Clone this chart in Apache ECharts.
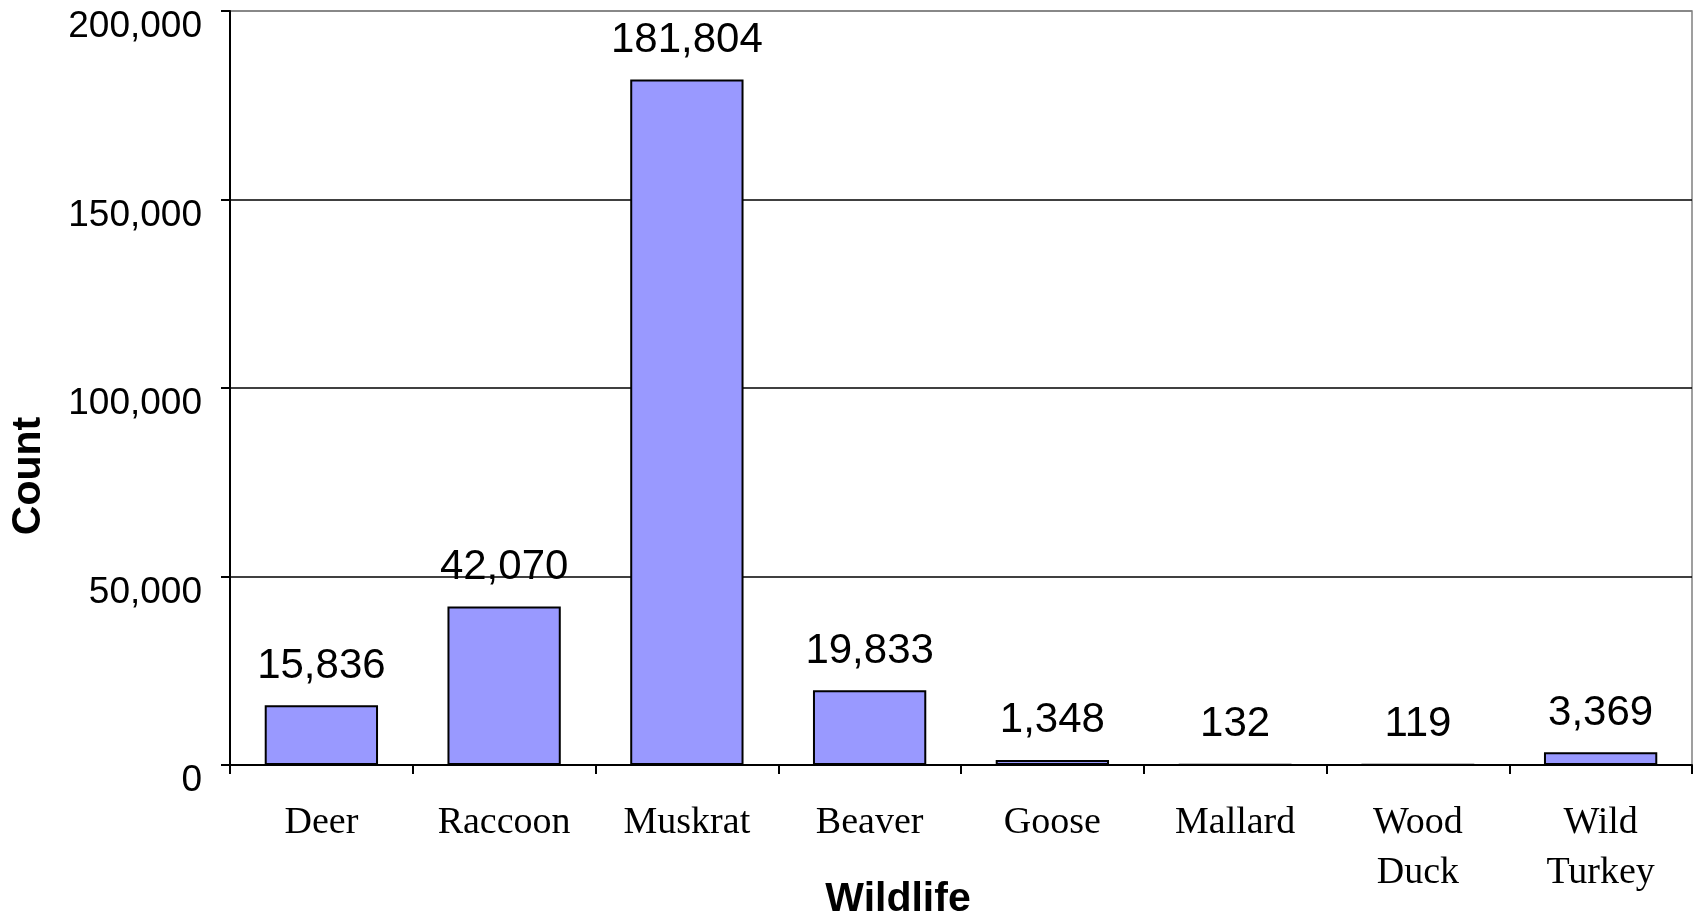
<!DOCTYPE html>
<html>
<head>
<meta charset="utf-8">
<script src="https://cdn.jsdelivr.net/npm/echarts@6/dist/echarts.min.js"></script>
<style>
  html, body { margin: 0; padding: 0; background: #fff; }
  #chart { width: 1697px; height: 921px; }
</style>
</head>
<body>
<div id="chart"></div>
<script>
  // wildlife counts
  const categories = ['Deer', 'Raccoon', 'Muskrat', 'Beaver', 'Goose', 'Mallard', 'Wood\nDuck', 'Wild\nTurkey'];
  const counts = [15836, 42070, 181804, 19833, 1348, 132, 119, 3369];
  const yTicks = [0, 50000, 100000, 150000, 200000];

  const fmt = v => Number(v).toLocaleString('en-US');
  const titleFont = { fontFamily: 'Liberation Sans', fontWeight: 'bold', fontSize: 41, fill: '#000', align: 'center', verticalAlign: 'middle' };

  const chart = echarts.init(document.getElementById('chart'));
  chart.setOption({
    animation: false,
    grid: {
      left: 230, right: 5, top: 11, bottom: 156,
      outerBoundsMode: 'none',
      containLabel: false,
      show: true, borderColor: '#808080', borderWidth: 1.5
    },
    // axis titles
    graphic: [
      { type: 'text', x: 29, y: 476, rotation: Math.PI / 2, style: Object.assign({ text: 'Count' }, titleFont) },
      { type: 'text', x: 898, y: 900, style: Object.assign({ text: 'Wildlife' }, titleFont) }
    ],
    xAxis: {
      type: 'category',
      data: categories,
      axisLine: { lineStyle: { color: '#000', width: 2 } },
      axisTick: { show: true, length: 9, lineStyle: { color: '#000', width: 2 } },
      axisLabel: {
        interval: 0, margin: 33,
        fontFamily: 'Liberation Serif', fontSize: 38, lineHeight: 50, color: '#000'
      }
    },
    yAxis: {
      type: 'value',
      min: yTicks[0],
      max: yTicks[yTicks.length - 1],
      interval: 50000,
      axisLine: { show: true, lineStyle: { color: '#000', width: 2 } },
      axisTick: { show: true, length: 9, lineStyle: { color: '#000', width: 2 } },
      axisLabel: {
        margin: 28, formatter: fmt,
        fontFamily: 'Liberation Sans', fontSize: 37, color: '#000',
        verticalAlign: 'top', lineHeight: 32
      },
      splitLine: {
        show: true,
        lineStyle: { color: ['#000', '#000', '#000', '#000', '#808080'], width: 1.5 }
      }
    },
    series: [{
      type: 'bar',
      data: counts,
      barCategoryGap: '38%',
      itemStyle: { color: '#9999FF', borderColor: '#000', borderWidth: 2 },
      label: {
        show: true, position: 'top', distance: 18,
        formatter: p => fmt(p.value),
        fontFamily: 'Liberation Sans', fontSize: 42, color: '#000'
      }
    }]
  });
</script>
</body>
</html>
